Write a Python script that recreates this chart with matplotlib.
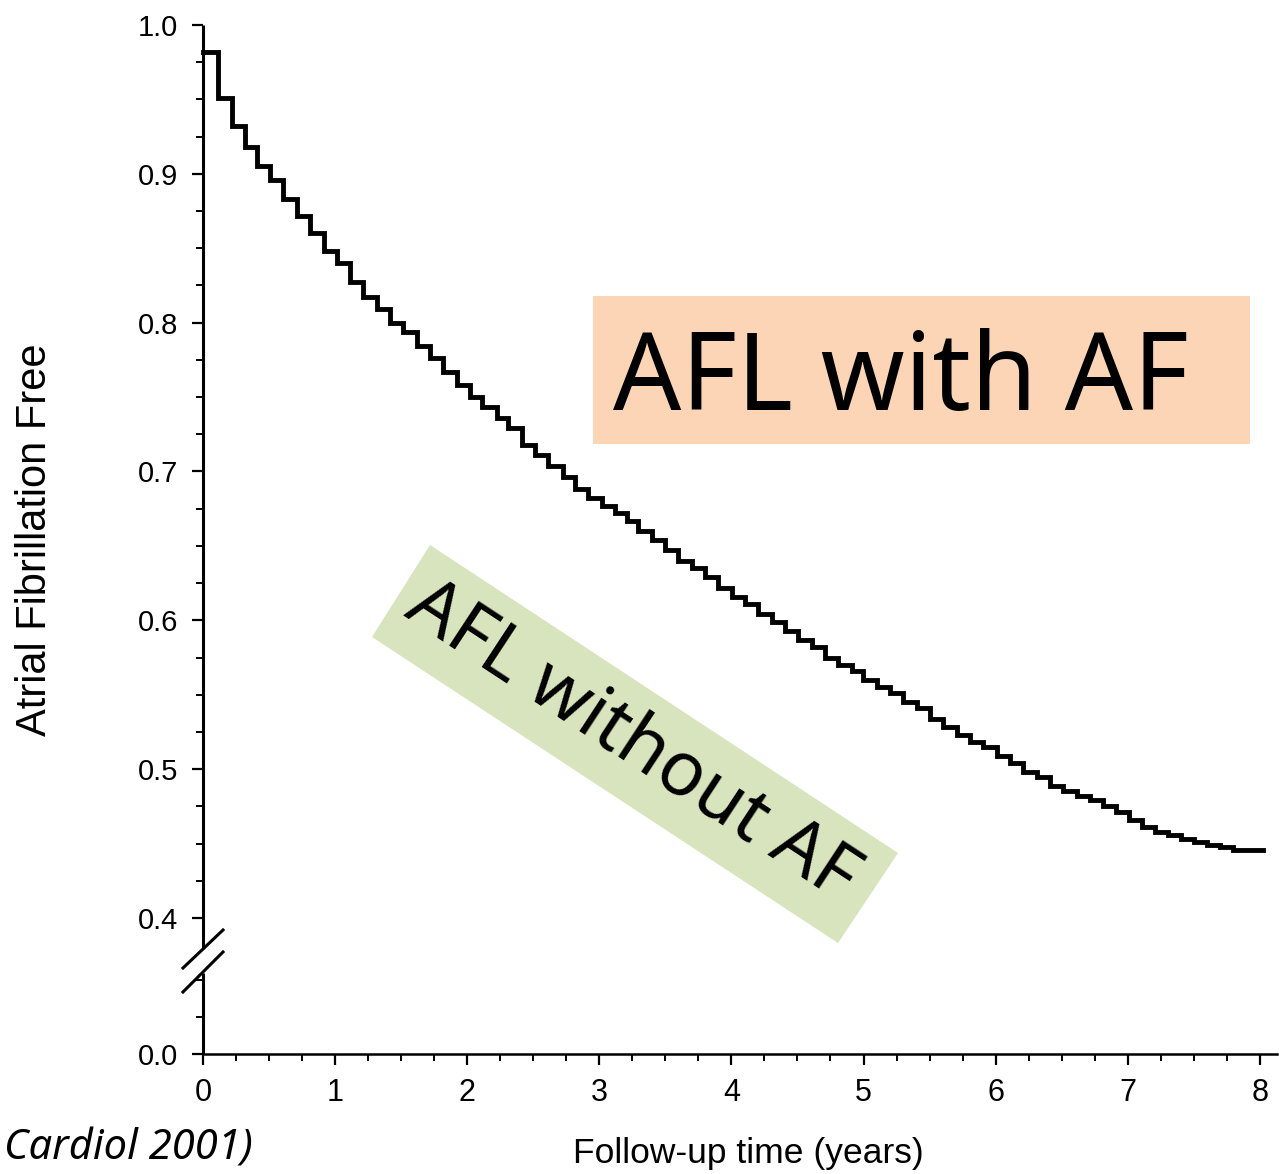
import matplotlib
matplotlib.use("Agg")
import matplotlib.pyplot as plt
from matplotlib.patches import Polygon, Rectangle
import numpy as np

# ---------------- data ----------------
# times (years) at which the Kaplan-Meier estimate changes
step_times = [0.0, 0.114, 0.220, 0.318, 0.409, 0.507, 0.606, 0.712, 0.810, 0.916,
              1.014, 1.113, 1.211, 1.317, 1.416, 1.514, 1.620, 1.718, 1.817, 1.923,
              2.021, 2.112, 2.226, 2.309, 2.415, 2.513, 2.612, 2.725, 2.816, 2.914,
              3.020, 3.119, 3.210, 3.293, 3.399, 3.497, 3.596, 3.702, 3.800, 3.899,
              4.005, 4.103, 4.201, 4.307, 4.406, 4.504, 4.610, 4.709, 4.807, 4.913,
              4.996, 5.102, 5.201, 5.299, 5.405, 5.503, 5.602, 5.708, 5.806, 5.905,
              6.011, 6.109, 6.207, 6.313, 6.412, 6.510, 6.616, 6.715, 6.813, 6.911,
              7.010, 7.108, 7.207, 7.305, 7.403, 7.502, 7.600, 7.699, 7.797]
# survival (AF free) value holding from each time above
af_free = [0.982, 0.951, 0.932, 0.918, 0.905, 0.896, 0.883, 0.872, 0.860, 0.848,
           0.840, 0.827, 0.817, 0.809, 0.800, 0.794, 0.784, 0.776, 0.767, 0.758,
           0.750, 0.743, 0.736, 0.729, 0.718, 0.711, 0.704, 0.696, 0.688, 0.682,
           0.677, 0.672, 0.667, 0.660, 0.654, 0.647, 0.640, 0.635, 0.629, 0.622,
           0.616, 0.611, 0.604, 0.599, 0.593, 0.587, 0.582, 0.575, 0.570, 0.566,
           0.560, 0.555, 0.551, 0.545, 0.541, 0.534, 0.528, 0.523, 0.518, 0.515,
           0.509, 0.504, 0.498, 0.495, 0.489, 0.485, 0.482, 0.479, 0.475, 0.471,
           0.466, 0.461, 0.458, 0.456, 0.453, 0.451, 0.449, 0.448, 0.446]
end_time = 8.024

x_ticks = [0, 1, 2, 3, 4, 5, 6, 7, 8]
x_ticklabels = ["0", "1", "2", "3", "4", "5", "6", "7", "8"]
y_ticks_upper = [0.4, 0.5, 0.6, 0.7, 0.8, 0.9, 1.0]
y_ticklabels_upper = ["0.4", "0.5", "0.6", "0.7", "0.8", "0.9", "1.0"]
zero_pos = 0.3086      # position of "0.0" on the broken axis

ylabel = "Atrial Fibrillation Free"
xlabel = "Follow-up time (years)"
label_with = "AFL with AF"
label_without = "AFL without AF"
citation = "Cardiol 2001)"

# ---------------- figure ----------------
W, H = 1279, 1174
fig = plt.figure(figsize=(W / 100, H / 100), dpi=100)
fig.patch.set_facecolor("white")

def fx(px):
    return px / W

def fy(py):
    return 1 - py / H

ax = fig.add_axes([fx(203), fy(1054), fx(1277) - fx(203), fy(25) - fy(1054)])
ax.set_xlim(0, 8.13)
ax.set_ylim(zero_pos, 1.0)

xs = list(step_times) + [end_time]
ys = list(af_free) + [af_free[-1]]
ax.step(xs, ys, where="post", color="black", lw=3.5, solid_joinstyle="miter",
        clip_on=False, zorder=3)

tickfont = "Liberation Sans"
ax.set_xticks(x_ticks)
ax.set_xticklabels(x_ticklabels, fontsize=22, family=tickfont)
ax.set_xticks(np.arange(0, 8.01, 0.25), minor=True)

ax.set_yticks([zero_pos] + y_ticks_upper)
ax.set_yticklabels(["0.0"] + y_ticklabels_upper, fontsize=21, family=tickfont)
ax.set_yticks(list(np.arange(0.425, 0.99, 0.025)) + [zero_pos + 0.025, zero_pos + 0.05],
              minor=True)

ax.tick_params(axis="both", which="major", direction="out", length=8, width=1.6,
               color="black")
ax.tick_params(axis="both", which="minor", direction="out", length=5, width=1.4,
               color="black")
ax.tick_params(axis="y", which="major", pad=10)
ax.tick_params(axis="x", which="major", pad=9)

for s in ["top", "right", "left"]:
    ax.spines[s].set_visible(False)
ax.spines["bottom"].set_linewidth(1.8)

# broken left spine
ax.plot([0, 0], [0.102, 1.0], transform=ax.transAxes, color="black", lw=2.2,
        clip_on=False, solid_capstyle="butt")
ax.plot([0, 0], [0.0, 0.0787], transform=ax.transAxes, color="black", lw=2.2,
        clip_on=False, solid_capstyle="butt")
# break marks
for (x0, y0, x1, y1) in [(183, 968, 223, 930), (183, 992, 223, 952)]:
    fig.add_artist(plt.Line2D([fx(x0), fx(x1)], [fy(y0), fy(y1)],
                              transform=fig.transFigure, color="black", lw=2.2))

# axis labels
fig.text(fx(35), fy(540), ylabel, rotation=90, ha="center", va="center",
         fontsize=30, family=tickfont)
fig.text(fx(748), fy(1153), xlabel, ha="center", va="center",
         fontsize=25.5, family=tickfont)

# citation
fig.text(fx(4), fy(1160), citation, ha="left", va="baseline", fontsize=30,
         family="Noto Sans", style="italic")

# peach label box
fig.add_artist(Rectangle((fx(593), fy(444)), fx(1250) - fx(593), fy(296) - fy(444),
                         transform=fig.transFigure, facecolor="#FBD5B5",
                         edgecolor="none", zorder=1))
fig.text(fx(613), fy(410), label_with, ha="left", va="baseline", fontsize=77,
         family="Noto Sans", zorder=2)

# green rotated label box
corners = [(372, 637), (430, 545), (898, 853), (838, 943)]
fig.add_artist(Polygon([(fx(px), fy(py)) for px, py in corners], closed=True,
                       transform=fig.transFigure, facecolor="#D7E4BD",
                       edgecolor="none", zorder=1))
fig.text(fx(632), fy(742), label_without, ha="center", va="center",
         rotation=-33.3, rotation_mode="anchor", fontsize=54,
         family="Noto Sans", zorder=2)

fig.savefig("out.png", dpi=100)
